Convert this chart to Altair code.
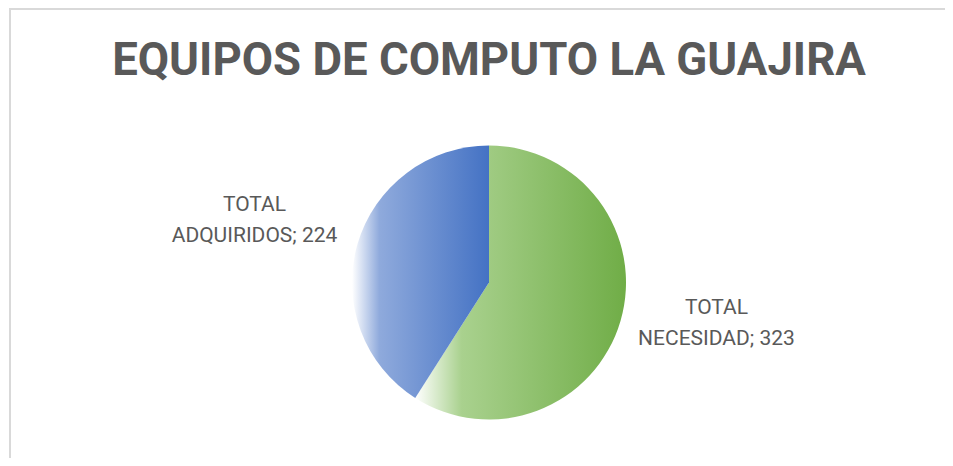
import altair as alt
import pandas as pd

# ---- data ----
categories = ["TOTAL NECESIDAD", "TOTAL ADQUIRIDOS"]
values = [323, 224]
order_idx = [0, 1]

df = pd.DataFrame({"cat": categories, "value": values, "idx": order_idx})

green_grad = {
    "gradient": "linear", "x1": 0, "x2": 1, "y1": 0, "y2": 0,
    "stops": [
        {"offset": 0, "color": "#ffffff"},
        {"offset": 0.22, "color": "#a9d18e"},
        {"offset": 1, "color": "#70ad47"},
    ],
}
blue_grad = {
    "gradient": "linear", "x1": 0, "x2": 1, "y1": 0, "y2": 0,
    "stops": [
        {"offset": 0, "color": "#ffffff"},
        {"offset": 0.2, "color": "#8faadc"},
        {"offset": 1, "color": "#4472c4"},
    ],
}

W, H = 882, 349
PAD = {"left": 40, "top": 100, "right": 15, "bottom": 1}

base = alt.Chart(df)

pie = base.mark_arc(radius=137).encode(
    theta=alt.Theta("value:Q", stack=True),
    order=alt.Order("idx:Q"),
    fill=alt.condition(alt.datum.cat == "TOTAL NECESIDAD",
                       alt.value(green_grad), alt.value(blue_grad)),
)

lab_base = (
    base.transform_window(cum="sum(value)", sort=[alt.SortField("idx")], frame=[None, 0])
    .transform_joinaggregate(total="sum(value)")
    .transform_calculate(
        ang="(datum.cum - datum.value/2) / datum.total * 2 * PI",
        label="split(datum.cat, ' ')[0] + '|' + split(datum.cat, ' ')[1] + '; ' + datum.value",
    )
)

def label_layer(cat, dx, dy):
    return lab_base.transform_filter(alt.datum.cat == cat).mark_text(
        radius=237, font="Roboto", fontSize=21, color="#595959",
        lineHeight=31, lineBreak="|", align="center", baseline="middle",
        dx=dx, dy=dy,
    ).encode(
        theta=alt.Theta("ang:Q", scale=None),
        text="label:N",
    )

lab_green = label_layer("TOTAL NECESIDAD", 0, -41)
lab_blue = label_layer("TOTAL ADQUIRIDOS", -7, -11)

frame = alt.Chart(alt.Data(values=[{"a": 1}])).mark_rect(
    fill="transparent", stroke="#d9d9d9", strokeWidth=2
).encode(
    x=alt.value(-38), y=alt.value(-99),
    x2=alt.value(W + 200), y2=alt.value(H + 200),
)

chart = alt.layer(frame, pie, lab_green, lab_blue).properties(
    width=W, height=H,
    padding=PAD,
    background="white",
    autosize=alt.AutoSizeParams(type="none"),
    title=alt.TitleParams(
        text="EQUIPOS DE COMPUTO LA GUAJIRA",
        font="Roboto", fontSize=45.5, fontWeight="bold", color="#595959",
        anchor="middle", frame="group", offset=0, baseline="alphabetic", dy=112,
    ),
).configure_view(stroke=None, strokeWidth=0)

chart.save("out.html", embed_options={"renderer": "svg", "actions": False})
